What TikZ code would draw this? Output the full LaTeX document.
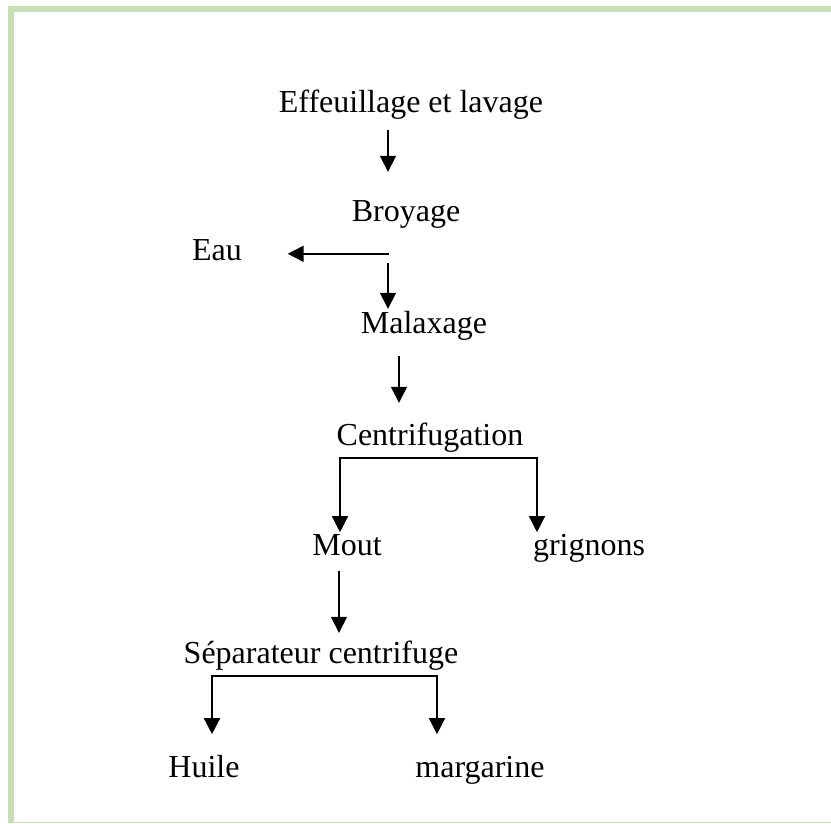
\documentclass[tikz,border=0pt]{standalone}
\usepackage{fontspec}
\setmainfont{Liberation Serif}
\usetikzlibrary{arrows.meta,calc}
\definecolor{cadre}{RGB}{198,224,180}

\begin{document}
\begin{tikzpicture}[x=1pt,y=-1pt,line width=1.6pt,>={Triangle[width=16pt,length=16pt]}]
    \tikzstyle{etape}=[inner sep=0pt,anchor=base,text height=22pt,text depth=7pt,font=\fontsize{32}{38}\selectfont]
    \tikzstyle{fleche}=[->]
    \tikzstyle{fourche}=[<->]

    % Frame around the chart
    \useasboundingbox (0,0) rectangle (831,823);
    \fill[cadre] (8,6) rectangle (831,12);
    \fill[cadre] (8,6) rectangle (14,823);
    \fill[cadre] (14,821.5) rectangle (831,823);

    % Draw the process steps
    \node[etape] (eff) at (411,112) {Effeuillage et lavage};
    \node[etape] (broy) at (406,221) {Broyage};
    \node[etape] (eau) at (217,260) {Eau};
    \node[etape] (malax) at (424,333) {Malaxage};
    \node[etape] (centr) at (430,445) {Centrifugation};
    \node[etape] (mout) at (347,555) {Mout};
    \node[etape] (grig) at (589,555) {grignons};
    \node[etape] (sep) at (321,663) {Séparateur centrifuge};
    \node[etape] (huile) at (204,777) {Huile};
    \node[etape] (marg) at (480,777) {margarine};

    % Connect the steps
    \draw[fleche] ($(eff.south)+(-23,10)$) -- ($(eff.south)+(-23,52)$);
    \coordinate (b1) at ($(broy.south)+(-17,25)$);
    \draw[fleche,shorten >=45pt] (b1) -- (b1 -| eau.east);
    \draw[fleche] ($(broy.south)+(-18,34)$) -- ($(broy.south)+(-18,80)$);
    \draw[fleche] ($(malax.south)+(-25,15)$) -- ($(malax.south)+(-25,62)$);

    % Split after centrifugation
    \coordinate (cg) at ($(centr.south)+(-90,5)$);
    \coordinate (cd) at ($(centr.south)+(107,5)$);
    \draw[fourche,line width=1.4pt] (cg |- mout.north) -- (cg) -- (cd) -- (cd |- grig.north);

    \draw[fleche] ($(mout.south)+(-8,8)$) -- ($(mout.south)+(-8,70)$);

    % Split after the separator
    \coordinate (sg) at ($(sep.south)+(-109,5)$);
    \coordinate (sd) at ($(sep.south)+(116,5)$);
    \draw[fourche,line width=1.4pt,shorten <=20pt,shorten >=20pt] (sg |- huile.north) -- (sg) -- (sd) -- (sd |- marg.north);
\end{tikzpicture}
\end{document}
